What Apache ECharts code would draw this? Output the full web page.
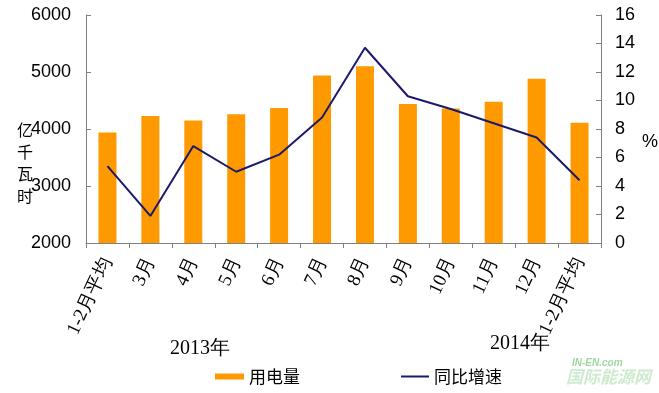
<!DOCTYPE html>
<html>
<head>
<meta charset="utf-8">
<script src="https://cdn.jsdelivr.net/npm/echarts@6/dist/echarts.min.js"></script>
<style>html,body{margin:0;padding:0;background:#fff}#c{width:659px;height:393px}</style>
</head>
<body>
<div id="c"></div>
<script>
var categories = ['1-2月平均','3月','4月','5月','6月','7月','8月','9月','10月','11月','12月','1-2月平均'];
var consumption = [3940,4230,4150,4260,4370,4940,5100,4440,4360,4480,4880,4110];
var growth = [5.4,1.9,6.8,5.0,6.2,8.8,13.7,10.3,9.4,8.4,7.4,4.4];
var leftTicks = [2000,6000,1000];
var rightTicks = [0,16,2];

var chart = echarts.init(document.getElementById('c'), null, {renderer:'canvas'});
var axisLine = {show:true, lineStyle:{color:'#808080', width:1}};
var legendText = {fontFamily:'Noto Sans CJK SC', fontSize:17, color:'#000'};
chart.setOption({
  animation:false,
  backgroundColor:'#fff',
  grid:{left:86, right:58, top:15, bottom:150, containLabel:false},
  legend:[{
    left:210, top:363, itemWidth:29, itemHeight:6, itemGap:0,
    textStyle:legendText,
    data:[{name:'用电量', icon:'rect'}]
  },{
    left:396, top:363, itemWidth:28, itemHeight:2,
    textStyle:legendText,
    data:[{name:'同比增速', icon:'rect'}]
  }],
  xAxis:{
    type:'category', data:categories, boundaryGap:true,
    axisLine:axisLine,
    axisTick:{show:true, alignWithLabel:false, length:5, lineStyle:{color:'#808080'}},
    axisLabel:{rotate:65, interval:0, margin:16, padding:[12,0,0,0], fontFamily:'Liberation Serif', fontSize:19, color:'#000'},
    splitLine:{show:false}
  },
  yAxis:[{
    type:'value', min:leftTicks[0], max:leftTicks[1], interval:leftTicks[2], position:'left',
    axisLine:axisLine,
    axisTick:{show:true, inside:true, length:5, lineStyle:{color:'#808080'}},
    axisLabel:{margin:15, fontFamily:'Liberation Sans', fontSize:18, color:'#000', formatter:function(v){return String(v);}},
    splitLine:{show:false}
  },{
    type:'value', min:rightTicks[0], max:rightTicks[1], interval:rightTicks[2], position:'right',
    axisLine:axisLine,
    axisTick:{show:true, inside:true, length:5, lineStyle:{color:'#808080'}},
    axisLabel:{margin:14, fontFamily:'Liberation Sans', fontSize:18, color:'#000'},
    splitLine:{show:false}
  }],
  series:[{
    name:'用电量', type:'bar', data:consumption, yAxisIndex:0, barWidth:18,
    itemStyle:{color:'#FF9900'}
  },{
    name:'同比增速', type:'line', data:growth, yAxisIndex:1, symbol:'none',
    lineStyle:{color:'#1C1A6B', width:2}, itemStyle:{color:'#1C1A6B'}
  }],
  graphic:[
    {type:'text', left:17, top:119, style:{text:'亿\n千\n瓦\n时', fontFamily:'Noto Sans CJK SC', fontSize:16, lineHeight:22, fill:'#000'}},
    {type:'text', left:642, top:133, style:{text:'%', fontFamily:'Liberation Sans', fontSize:18, fill:'#000'}},
    {type:'text', left:170, top:339, style:{text:'2013年', fontFamily:'Liberation Serif', fontSize:20, fill:'#000'}},
    {type:'text', left:490, top:334, style:{text:'2014年', fontFamily:'Liberation Serif', fontSize:20, fill:'#000'}},
    {type:'text', left:572, top:358, style:{text:'IN-EN.com', fontFamily:'Liberation Sans', fontStyle:'italic', fontWeight:'bold', fontSize:10, fill:'#9ed99e'}},
    {type:'text', left:566, top:368, style:{text:'国际能源网', fontFamily:'Noto Sans CJK SC', fontStyle:'italic', fontWeight:'bold', fontSize:17, fill:'#cfeacf'}}
  ]
});
</script>
</body>
</html>
